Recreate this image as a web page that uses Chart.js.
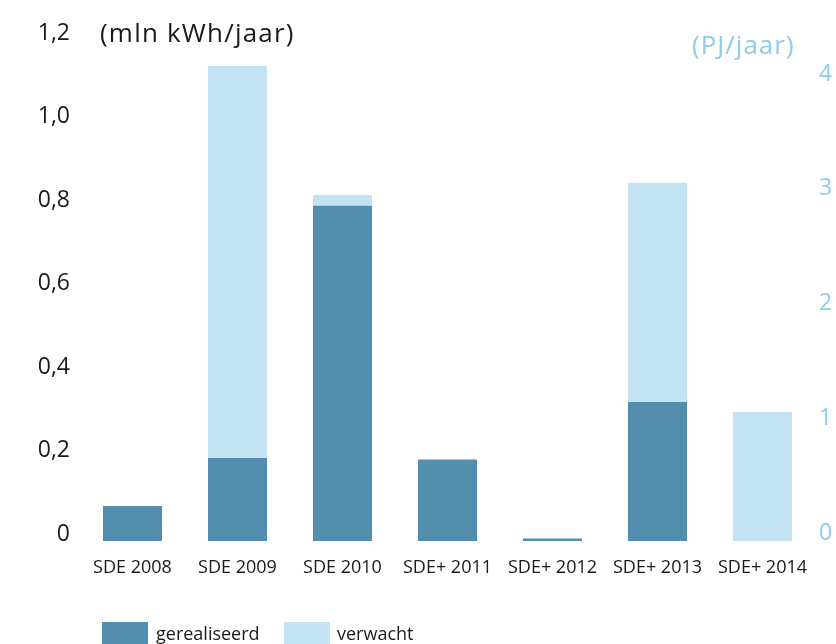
<!DOCTYPE html>
<html>
<head>
<meta charset="utf-8">
<script src="https://cdn.jsdelivr.net/npm/chart.js@4/dist/chart.umd.min.js"></script>
<style>
  html, body { margin: 0; padding: 0; background: #fff; overflow: hidden; }
  #wrap { position: relative; width: 836px; height: 644px; font-family: "Open Sans", sans-serif; }
  canvas { position: absolute; left: 0; top: 0; }
  .ttl { position: absolute; white-space: nowrap; line-height: 1; }
  #tl { left: 100px; top: 19px; font-size: 26px; color: #1a1a1a; letter-spacing: 1.2px; }
  #tr { left: 692px; top: 31px; font-size: 26px; color: #8fcbea; letter-spacing: 1px; }
  .lg { position: absolute; top: 622px; height: 26px; }
  .lt { position: absolute; top: 624px; font-size: 18px; color: #1a1a1a; line-height: 1; white-space: nowrap; }
</style>
</head>
<body>
<div id="wrap">
  <canvas id="c" width="836" height="644"></canvas>
  <div class="ttl" id="tl">(mln kWh/jaar)</div>
  <div class="ttl" id="tr">(PJ/jaar)</div>
  <div class="lg" style="left:102px;width:46px;background:#548eaf"></div>
  <div class="lt" style="left:156px">gerealiseerd</div>
  <div class="lg" style="left:284px;width:46px;background:#c3e2f2"></div>
  <div class="lt" style="left:337px">verwacht</div>
</div>
<script>
const categories = ["SDE 2008", "SDE 2009", "SDE 2010", "SDE+ 2011", "SDE+ 2012", "SDE+ 2013", "SDE+ 2014"];
const gerealiseerd = [0.084, 0.199, 0.803, 0.195, 0.006, 0.333, 0];
const verwacht = [0, 0.939, 0.026, 0, 0, 0.525, 0.309];
const leftTicks = [0, 0.2, 0.4, 0.6, 0.8, 1.0, 1.2];
const rightTicks = [0, 1, 2, 3, 4];
const seriesNames = ["gerealiseerd", "verwacht"];

const fmtNL = v => (v === 0 ? "0" : v.toFixed(1).replace(".", ","));

new Chart(document.getElementById("c"), {
  type: "bar",
  data: {
    labels: categories,
    datasets: [
      { label: seriesNames[0], data: gerealiseerd, backgroundColor: "#548eaf", yAxisID: "y", stack: "s" },
      { label: seriesNames[1], data: verwacht, backgroundColor: "#c3e2f2", yAxisID: "y", stack: "s" }
    ]
  },
  options: {
    responsive: false,
    animation: false,
    devicePixelRatio: 1,
    layout: { padding: { top: 40, left: 0, right: 0, bottom: 0 } },
    plugins: { legend: { display: false }, tooltip: { enabled: false } },
    datasets: { bar: { barPercentage: 0.562, categoryPercentage: 1.0 } },
    scales: {
      x: {
        stacked: true,
        grid: { display: false, drawTicks: false },
        border: { display: false },
        ticks: { color: "#1a1a1a", font: { family: "Open Sans", size: 18 }, padding: 16, maxRotation: 0 },
        afterFit: s => { s.height = 103; }
      },
      y: {
        stacked: true,
        position: "left",
        min: 0, max: 1.2,
        grid: { display: false, drawTicks: false },
        border: { display: false },
        afterBuildTicks: s => { s.ticks = leftTicks.map(v => ({ value: v })); },
        ticks: { color: "#1a1a1a", font: { family: "Open Sans", size: 23 }, padding: 10, labelOffset: -7, callback: v => fmtNL(v) },
        afterFit: s => { s.width = 80; }
      },
      y2: {
        position: "right",
        min: 0, max: 4.366,
        grid: { display: false, drawTicks: false },
        border: { display: false },
        afterBuildTicks: s => { s.ticks = rightTicks.map(v => ({ value: v })); },
        ticks: { color: "#8fcbea", font: { family: "Open Sans", size: 23 }, padding: 4, labelOffset: -8, callback: v => String(v) },
        afterFit: s => { s.width = 21; }
      }
    }
  }
});
</script>
</body>
</html>
